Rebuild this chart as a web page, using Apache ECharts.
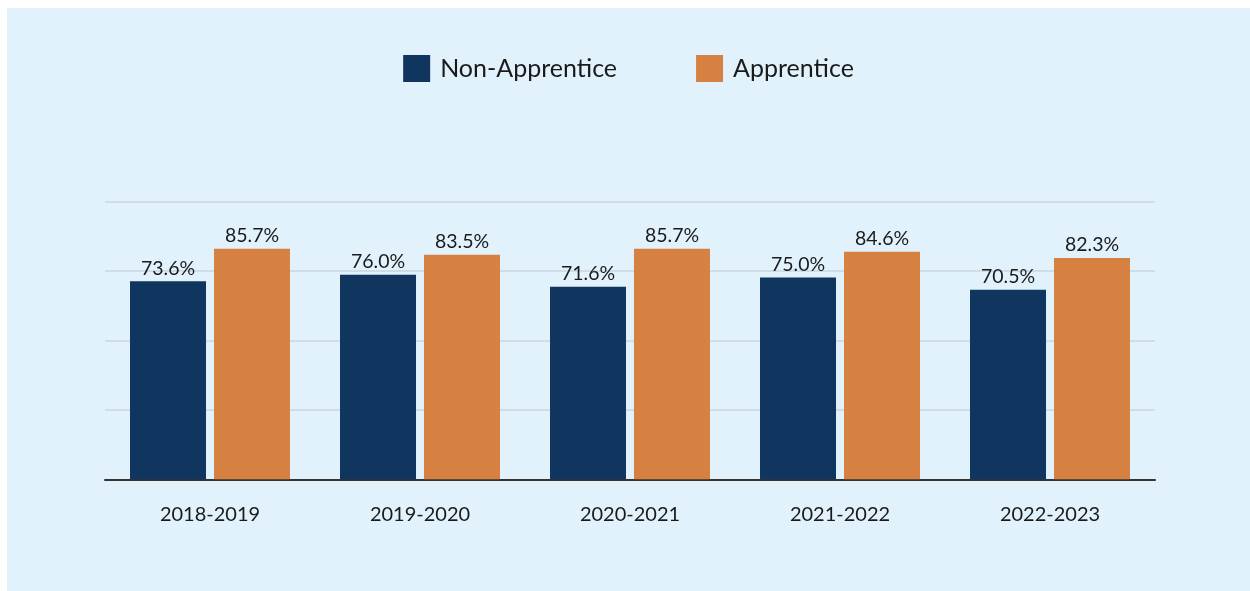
<!DOCTYPE html>
<html>
<head>
<meta charset="utf-8">
<script src="https://cdn.jsdelivr.net/npm/echarts@6/dist/echarts.min.js"></script>
<style>
  html, body { margin: 0; padding: 0; background: #ffffff; }
  #chart { position: absolute; left: 7px; top: 8px; width: 1243px; height: 583px; }
</style>
</head>
<body>
<div id="chart"></div>
<script>
const categories = ['2018-2019', '2019-2020', '2020-2021', '2021-2022', '2022-2023'];
const nonApprentice = [73.6, 76.0, 71.6, 75.0, 70.5];
const apprentice = [85.7, 83.5, 85.7, 84.6, 82.3];
const seriesNames = ['Non-Apprentice', 'Apprentice'];

const FONT = 'Lato, "Noto Sans", sans-serif';
const chart = echarts.init(document.getElementById('chart'), null, { renderer: 'canvas' });
chart.setOption({
  backgroundColor: '#e1f2fd',
  animation: false,
  textStyle: { fontFamily: FONT },
  legend: {
    top: 42,
    left: 'center',
    itemWidth: 27,
    itemHeight: 27,
    itemGap: 79,
    icon: 'rect',
    textStyle: { fontSize: 25, color: '#1a1a1a', fontFamily: FONT, padding: [0, 0, 0, 5] },
    data: seriesNames
  },
  grid: { left: 98, right: 95, top: 193.7, bottom: 111.7, containLabel: false },
  xAxis: {
    type: 'category',
    data: categories,
    axisTick: { show: false },
    axisLine: { lineStyle: { color: '#333333', width: 2 } },
    axisLabel: { fontSize: 20, color: '#1a1a1a', margin: 25, fontFamily: FONT }
  },
  yAxis: {
    type: 'value',
    min: 0,
    max: 103.2,
    interval: 25.8,
    axisLabel: { show: false },
    axisLine: { show: false },
    axisTick: { show: false },
    splitLine: { lineStyle: { color: '#c9d6df', width: 1.5 } }
  },
  series: [
    {
      name: seriesNames[0],
      type: 'bar',
      data: nonApprentice,
      barWidth: 76,
      barGap: '10.5%',
      itemStyle: { color: '#10365f' },
      label: { show: true, position: 'top', distance: 3, fontSize: 19.5, color: '#1a1a1a', fontFamily: FONT,
               formatter: p => p.value.toFixed(1) + '%' }
    },
    {
      name: seriesNames[1],
      type: 'bar',
      data: apprentice,
      barWidth: 76,
      barGap: '10.5%',
      itemStyle: { color: '#d68142' },
      label: { show: true, position: 'top', distance: 3, fontSize: 19.5, color: '#1a1a1a', fontFamily: FONT,
               formatter: p => p.value.toFixed(1) + '%' }
    }
  ]
});
</script>
</body>
</html>
